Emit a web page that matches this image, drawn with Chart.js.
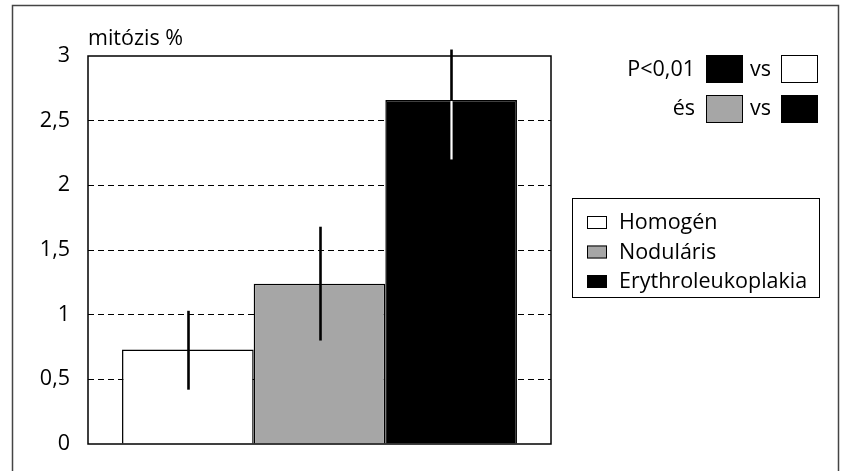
<!DOCTYPE html>
<html>
<head>
<meta charset="utf-8">
<script src="https://cdn.jsdelivr.net/npm/chart.js@4/dist/chart.umd.min.js"></script>
<style>
  html, body { margin: 0; padding: 0; background: #fff; }
  #wrap { width: 848px; height: 471px; position: relative; }
</style>
</head>
<body>
<div id="wrap"><canvas id="mitozisChart" width="848" height="471"></canvas></div>
<script>
// mitózis % csoportonként (átlag, hibasáv fel / le)
const groups = ['Homogén', 'Noduláris', 'Erythroleukoplakia'];
const mitosis = [0.73, 1.24, 2.66];
const errUp = [0.30, 0.44, 0.39];
const errDown = [0.31, 0.44, 0.46];
const barColors = ['#ffffff', '#a6a6a6', '#000000'];

const FONT = '"Open Sans", "Noto Sans", sans-serif';
const FONT_SIZE = 21.5;

// rács szaggatott, 0 és 3 értéknél nincs vonal (ott a keret van)
const gridColor = ctx => (ctx.tick && (ctx.tick.value === 0 || ctx.tick.value === 3)) ? 'rgba(0,0,0,0)' : '#000';

const decorPlugin = {
    id: 'decor',
    beforeDraw(chart) {
        const c = chart.ctx;
        c.save();
        // külső keret
        c.strokeStyle = '#444';
        c.lineWidth = 1.5;
        c.beginPath();
        c.moveTo(12.5, 480);
        c.lineTo(12.5, 5.5);
        c.lineTo(838.5, 5.5);
        c.lineTo(838.5, 480);
        c.stroke();
        c.restore();
    },
    afterDatasetsDraw(chart) {
        const c = chart.ctx;
        const y = chart.scales.y;
        c.save();
        // hibasávok
        chart.data.datasets.forEach((ds, i) => {
            const bar = chart.getDatasetMeta(i).data[0];
            const x = Math.round(bar.x) + 0.5;
            const v = ds.data[0];
            const top = y.getPixelForValue(v + errUp[i]);
            const bottom = y.getPixelForValue(v - errDown[i]);
            c.lineWidth = 2.6;
            c.strokeStyle = '#000';
            c.beginPath();
            c.moveTo(x, top);
            c.lineTo(x, bottom);
            c.stroke();
            if (ds.backgroundColor === '#000000') {
                c.strokeStyle = '#fff';
                c.lineWidth = 2.2;
                c.beginPath();
                c.moveTo(x, bar.y + 1);
                c.lineTo(x, bottom);
                c.stroke();
            }
        });
        // a rajzterület kerete
        const a = chart.chartArea;
        c.strokeStyle = '#000';
        c.lineWidth = 1.5;
        c.strokeRect(a.left, a.top, a.right - a.left, a.bottom - a.top);
        c.restore();
    },
    afterDraw(chart) {
        const c = chart.ctx;
        const a = chart.chartArea;
        c.save();
        c.font = FONT_SIZE + 'px ' + FONT;
        c.fillStyle = '#000';
        c.textBaseline = 'alphabetic';
        c.textAlign = 'left';
        c.fillText('mitózis %', a.left, 45);

        // szignifikancia jelölés
        const box = (x, y0, color) => {
            c.fillStyle = color;
            c.fillRect(x, y0, 37, 28);
            c.strokeStyle = '#000';
            c.lineWidth = 1;
            c.strokeRect(x + 0.5, y0 + 0.5, 36, 27);
        };
        c.textBaseline = 'middle';
        c.fillStyle = '#000';
        c.textAlign = 'right';
        c.fillText('P<0,01', 695, 70);
        c.fillText('és', 695, 109);
        c.textAlign = 'left';
        c.fillText('vs', 750, 70);
        c.fillText('vs', 750, 109);
        box(706, 55, barColors[2]);
        box(781, 55, barColors[0]);
        box(706, 95, barColors[1]);
        box(781, 95, barColors[2]);

        // jelmagyarázat
        c.strokeStyle = '#000';
        c.lineWidth = 1;
        c.strokeRect(572.5, 198.5, 247, 99);
        chart.data.datasets.forEach((ds, i) => {
            const cy = 222 + i * 29.5;
            c.fillStyle = ds.backgroundColor;
            c.fillRect(587, cy - 6, 20, 13);
            c.strokeStyle = '#000';
            c.strokeRect(587.5, cy - 5.5, 19, 12);
            c.fillStyle = '#000';
            c.textAlign = 'left';
            c.fillText(ds.label, 619, cy + 1);
        });
        c.restore();
    }
};

new Chart(document.getElementById('mitozisChart'), {
    type: 'bar',
    data: {
        labels: [''],
        datasets: groups.map((g, i) => ({
            label: g,
            data: [mitosis[i]],
            backgroundColor: barColors[i],
            borderColor: '#000',
            borderWidth: 1.5,
            categoryPercentage: 0.853,
            barPercentage: 1
        }))
    },
    options: {
        responsive: false,
        animation: false,
        layout: { padding: { left: 0, top: 56, right: 297, bottom: 27 } },
        plugins: {
            legend: { display: false },
            tooltip: { enabled: false }
        },
        scales: {
            x: { display: false },
            y: {
                min: 0,
                max: 3,
                afterFit(scale) {
                    scale.width = 88;
                    scale.paddingTop = 0;
                    scale.paddingBottom = 0;
                },
                ticks: {
                    stepSize: 0.5,
                    padding: 18,
                    color: '#000',
                    font: { family: FONT, size: FONT_SIZE },
                    callback: v => String(v).replace('.', ',')
                },
                grid: { color: gridColor, lineWidth: 1, drawTicks: false },
                border: { display: false, dash: [6, 4] }
            }
        }
    },
    plugins: [decorPlugin]
});
</script>
</body>
</html>
